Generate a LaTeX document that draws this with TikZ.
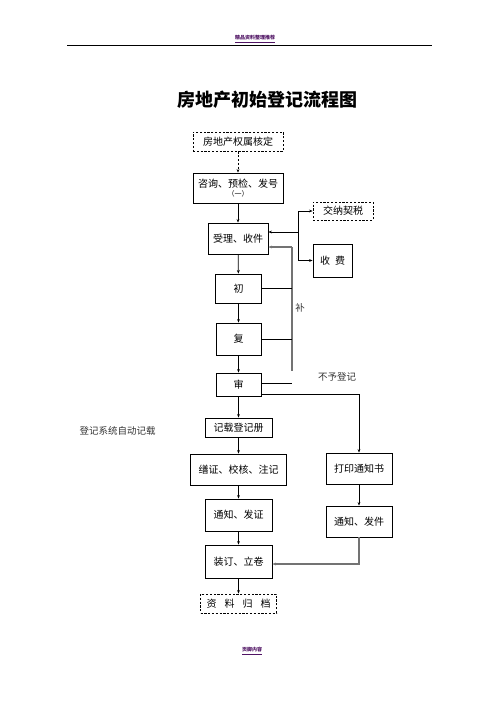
\documentclass[tikz,border=0pt]{standalone}
\usepackage{fontspec}
\setmainfont{Noto Sans CJK SC}
\usetikzlibrary{arrows.meta}
\begin{document}
\begin{tikzpicture}[x=1pt,y=-1pt,
  box/.style={draw,line width=0.9pt,inner sep=0pt,align=center,font=\fontsize{10}{12}\selectfont},
  dbox/.style={box,dash pattern=on 2.2pt off 1.6pt},
  arr/.style={-{Stealth[length=3.5pt,width=2.8pt]},line width=0.8pt},
  ln/.style={line width=0.8pt},
  gln/.style={line width=1.3pt,draw=black!55},
  lbl/.style={inner sep=0pt,font=\fontsize{9.5}{11}\selectfont,text=black!80},
  hdr/.style={inner sep=0pt,font=\fontsize{5}{6}\selectfont\bfseries,text={rgb,255:red,80;green,20;blue,100}}
]
\useasboundingbox (0,0) rectangle (496,702);
% header / footer
\node[hdr] (hd) at (255,39) {\underline{精品资料整理推荐}};
\coordinate (hl) at (67,45);
\coordinate (hr) at (432,45);
\draw[line width=0.9pt] (hl) -- (hr);
\node[hdr] (ft) at (252,651) {\underline{页脚内容}};
% title
\node[inner sep=0pt,font=\fontsize{18}{20}\selectfont\bfseries] (title) at (267,100) {房地产初始登记流程图};
% boxes
\node[dbox,minimum width=90pt,minimum height=19pt] (b1) at (238,141.5) {房地产权属核定};
\node[box,minimum width=90pt,minimum height=30pt] (b2) at (238,188) {咨询、预检、发号\\[-3pt]{\fontsize{7}{8}\selectfont（一）}};
\node[box,minimum width=60pt,minimum height=31pt] (b3) at (238,238.5) {受理、收件};
\node[dbox,minimum width=60pt,minimum height=18pt] (tax) at (343,211) {交纳契税};
\node[box,minimum width=39pt,minimum height=33pt] (fee) at (332.5,260.5) {收\hspace{0.5em}费};
\node[box,minimum width=46pt,minimum height=29pt] (chu) at (238.5,288.5) {初};
\node[box,minimum width=45pt,minimum height=32pt] (fu) at (238.5,339) {复};
\node[box,minimum width=45pt,minimum height=23pt] (shen) at (238.5,384.5) {审};
\node[box,minimum width=67pt,minimum height=19pt] (jz) at (238.5,427.5) {记载登记册};
\node[box,minimum width=96pt,minimum height=31pt] (sz) at (238.5,469.5) {缮证、校核、注记};
\node[box,minimum width=66pt,minimum height=31pt] (dy) at (359,468.5) {打印通知书};
\node[box,minimum width=67pt,minimum height=32pt] (tz) at (238.5,515) {通知、发证};
\node[box,minimum width=66pt,minimum height=31pt] (tf) at (359,521.5) {通知、发件};
\node[box,minimum width=67pt,minimum height=33pt] (zd) at (238.5,561.5) {装订、立卷};
\node[dbox,minimum width=76pt,minimum height=19pt] (zl) at (238.5,603.5) {资\hspace{0.8em}料\hspace{0.8em}归\hspace{0.8em}档};
% labels
\node[lbl] (bu) at (300,308) {补};
\node[lbl] (bydj) at (337,377) {不予登记};
\node[lbl] (xt) at (117.5,431) {登记系统自动记载};
% main column
\draw[arr,dash pattern=on 2.2pt off 1.6pt] (b1) -- (b2);
\draw[arr] (b2) -- (b3);
\draw[arr] (b3) -- (chu);
\draw[arr] (chu) -- (fu);
\draw[arr] (fu) -- (shen);
\draw[arr] (shen) -- (jz);
\draw[arr] (jz) -- (sz);
\draw[arr] (sz) -- (tz);
\draw[arr] (tz) -- (zd);
\draw[arr] (zd) -- (zl);
% fee branch
\coordinate (ft1) at (298,211);
\coordinate (ft2) at (298,260.5);
\coordinate (ft3) at (298,232);
\draw[ln] (ft1) -- (ft2);
\draw[arr] (ft1) -- (tax.west);
\draw[arr] (ft2) -- (fee.west);
\draw[arr] (ft3) -- (b3.east |- ft3);
% supplement loop
\coordinate (s1) at (292,247);
\coordinate (s2) at (292,371);
\draw[gln] (s1) -- (s2);
\draw[arr,gln] (s1) -- (b3.east |- s1);
\draw[ln] (chu.east) -- (chu.east -| s1);
\draw[ln] (fu.east) -- (fu.east -| s1);
\coordinate (sh1) at (262,383);
\draw[ln] (shen.east |- sh1) -- (s1 |- sh1);
% refuse branch
\coordinate (r1) at (262,394);
\draw[arr] (shen.east |- r1) -- (dy.north |- r1) -- (dy.north);
\draw[arr] (dy) -- (tf);
\coordinate (r2) at (359,564);
\draw[arr,gln] (tf.south) -- (r2) -- (zd.east |- r2);
\end{tikzpicture}
\end{document}
